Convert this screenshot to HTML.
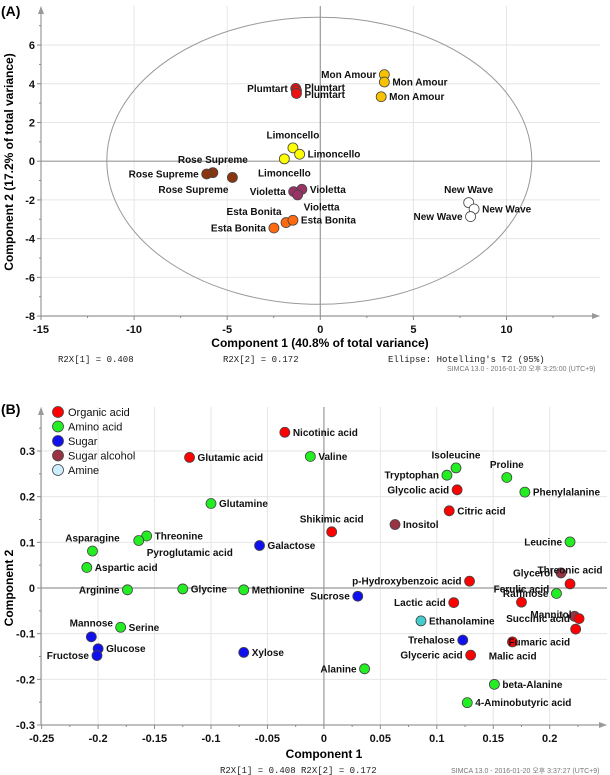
<!DOCTYPE html>
<html><head><meta charset="utf-8">
<style>
html,body{margin:0;padding:0;background:#fff;}
svg{display:block;font-family:"Liberation Sans",Arial,sans-serif;}
.tk{font-size:11px;font-weight:bold;fill:#111;}
.lb{font-size:10px;font-weight:bold;fill:#111;}
.mono{font-family:"Liberation Mono",monospace;font-size:9px;fill:#222;}
.foot{font-size:7px;fill:#777;}
</style></head>
<body>
<svg id="chart" width="610" height="775" viewBox="0 0 610 775">
<text x="1" y="16" font-size="14" font-weight="bold">(A)</text>
<text x="1" y="414" font-size="14" font-weight="bold">(B)</text>
<g id="gA"></g>
<g id="gB"></g>
<text x="320" y="347" text-anchor="middle" font-size="12" font-weight="bold">Component 1 (40.8% of total variance)</text>
<text transform="translate(13,162) rotate(-90)" text-anchor="middle" font-size="12" font-weight="bold">Component 2 (17.2% of total variance)</text>
<text class="mono" x="58" y="362">R2X[1] = 0.408</text>
<text class="mono" x="223" y="362">R2X[2] = 0.172</text>
<text class="mono" x="388" y="362">Ellipse: Hotelling's T2 (95%)</text>
<text class="foot" x="447" y="371">SIMCA 13.0 - 2016-01-20 오후 3:25:00 (UTC+9)</text>
<text x="324" y="758" text-anchor="middle" font-size="12" font-weight="bold">Component 1</text>
<text transform="translate(13,588) rotate(-90)" text-anchor="middle" font-size="12" font-weight="bold">Component 2</text>
<text class="mono" x="220" y="773">R2X[1] = 0.408 R2X[2] = 0.172</text>
<text class="foot" x="451" y="773">SIMCA 13.0 - 2016-01-20 오후 3:37:27 (UTC+9)</text>
</svg>
<script>
// ---- Panel A data ----
const aNames = ["Mon Amour","Mon Amour","Mon Amour","Plumtart","Plumtart","Plumtart","Limoncello","Limoncello","Limoncello","Rose Supreme","Rose Supreme","Rose Supreme","Violetta","Violetta","Violetta","Esta Bonita","Esta Bonita","Esta Bonita","New Wave","New Wave","New Wave"];
const aX = [3.44,3.44,3.27,-1.32,-1.28,-1.28,-1.47,-1.11,-1.93,-5.77,-6.1,-4.72,-1.43,-0.99,-1.22,-1.84,-2.49,-1.47,7.97,8.26,8.07];
const aY = [4.47,4.09,3.33,3.76,3.64,3.5,0.69,0.36,0.12,-0.59,-0.66,-0.84,-1.57,-1.45,-1.74,-3.17,-3.45,-3.05,-2.14,-2.47,-2.86];
const aXTicks = [-15,-10,-5,0,5,10];
const aYTicks = [-8,-6,-4,-2,0,2,4,6];
// ---- Panel B data ----
const bNames = ["Nicotinic acid","Glutamic acid","Valine","Isoleucine","Tryptophan","Proline","Glycolic acid","Phenylalanine","Glutamine","Citric acid","Shikimic acid","Inositol","Asparagine","Threonine","Pyroglutamic acid","Galactose","Leucine","Aspartic acid","Threonic acid","Glycerol","p-Hydroxybenzoic acid","Raffinose","Ferulic acid","Arginine","Glycine","Methionine","Sucrose","Lactic acid","Ethanolamine","Mannitol","Succinic acid","Malic acid","Trehalose","Fumaric acid","Glyceric acid","Mannose","Serine","Glucose","Fructose","Xylose","Alanine","beta-Alanine","4-Aminobutyric acid"];
const bX = [-0.0346,-0.119,-0.012,0.117,0.109,0.162,0.118,0.178,-0.100,0.111,0.0069,0.063,-0.205,-0.157,-0.164,-0.057,0.218,-0.210,0.218,0.210,0.129,0.206,0.175,-0.174,-0.125,-0.071,0.030,0.115,0.086,0.222,0.226,0.223,0.123,0.167,0.130,-0.206,-0.180,-0.200,-0.201,-0.071,0.036,0.151,0.127];
const bY = [0.341,0.286,0.288,0.263,0.247,0.242,0.215,0.210,0.185,0.169,0.123,0.139,0.081,0.114,0.104,0.093,0.101,0.045,0.009,0.033,0.015,-0.012,-0.031,-0.004,-0.002,-0.004,-0.018,-0.032,-0.072,-0.062,-0.067,-0.090,-0.114,-0.118,-0.147,-0.107,-0.086,-0.133,-0.148,-0.141,-0.177,-0.211,-0.251];
const bClass = ["Organic acid","Organic acid","Amino acid","Amino acid","Amino acid","Amino acid","Organic acid","Amino acid","Amino acid","Organic acid","Organic acid","Sugar alcohol","Amino acid","Amino acid","Amino acid","Sugar","Amino acid","Amino acid","Organic acid","Sugar alcohol","Organic acid","Amino acid","Organic acid","Amino acid","Amino acid","Amino acid","Sugar","Organic acid","Amine","Sugar alcohol","Organic acid","Organic acid","Sugar","Organic acid","Organic acid","Sugar","Amino acid","Sugar","Sugar","Sugar","Amino acid","Amino acid","Amino acid"];
const bClasses = ["Organic acid","Amino acid","Sugar","Sugar alcohol","Amine"];
const bXTicks = [-0.25,-0.2,-0.15,-0.1,-0.05,0,0.05,0.1,0.15,0.2];
const bYTicks = [-0.3,-0.2,-0.1,0,0.1,0.2,0.3];

// styles (not data)
const aColor = {"Mon Amour":"#f7c200","Plumtart":"#ee1111","Limoncello":"#ffff00","Rose Supreme":"#8a3410","Violetta":"#993366","Esta Bonita":"#ff6a10","New Wave":"#ffffff"};
const bColor = {"Organic acid":"#ff0000","Amino acid":"#22ee22","Sugar":"#1010ee","Sugar alcohol":"#993344","Amine":"#44cccc"};
const aLab = [[-8,0,"end"],[8,0,"start"],[8,0,"start"],[-8,0,"end"],[8,-3,"start"],[8,1,"start"],[0,-13,"middle"],[8,0,"start"],[0,14,"middle"],[0,-13,"middle"],[-8,0,"end"],[-39,12,"middle"],[-8,0,"end"],[8,0,"start"],[24,12,"middle"],[-32,-11,"middle"],[-8,0,"end"],[8,0,"start"],[0,-13,"middle"],[8,0,"start"],[-8,0,"end"]];
const bLab = {"Isoleucine":[0,-13,"middle"],"Proline":[0,-13,"middle"],"Shikimic acid":[0,-13,"middle"],"Asparagine":[0,-13,"middle"],"Mannose":[0,-14,"middle"],"Pyroglutamic acid":[8,12,"start"],"Fumaric acid":[-4,0,"start"],"Malic acid":[-63,27,"middle"],"Succinic acid":[-9,0,"end"],"Mannitol":[-3,-2,"end"],"Glycerol":[-8,0,"end"],"Threonic acid":[0,-14,"middle"],"Ferulic acid":[0,-13,"middle"],"Raffinose":[-8,0,"end"],"Leucine":[-8,0,"end"],"Tryptophan":[-8,0,"end"],"Glycolic acid":[-8,0,"end"],"Arginine":[-8,0,"end"],"Lactic acid":[-8,0,"end"],"Trehalose":[-8,0,"end"],"Glyceric acid":[-8,0,"end"],"Fructose":[-8,0,"end"],"Alanine":[-8,0,"end"],"p-Hydroxybenzoic acid":[-8,0,"end"],"Sucrose":[-8,0,"end"]};

const NS="http://www.w3.org/2000/svg";
function mk(parent,tag,attrs,txt){const e=document.createElementNS(NS,tag);for(const k in attrs)e.setAttribute(k,attrs[k]);if(txt!==undefined)e.textContent=txt;parent.appendChild(e);return e;}

function frame(g,o){
  // grid
  o.xt.forEach(v=>{if(v!==0){const l=mk(g,"line",{x1:o.sx(v),x2:o.sx(v),y1:o.top,y2:o.bottom,stroke:"#e6e6e6","stroke-width":1});
  
  }});
  o.yt.forEach(v=>{if(v!==0){const l=mk(g,"line",{x1:o.left,x2:o.right,y1:o.sy(v),y2:o.sy(v),stroke:"#e6e6e6","stroke-width":1});
  
  }});
  // zero lines
  const zx=mk(g,"line",{x1:o.sx(0),x2:o.sx(0),y1:o.top,y2:o.bottom,stroke:"#999","stroke-width":1.2});
  
  
  const zy=mk(g,"line",{x1:o.left,x2:o.right,y1:o.sy(0),y2:o.sy(0),stroke:"#999","stroke-width":1.2});
  
  
  // axes
  const ax=mk(g,"line",{x1:o.left,x2:o.right-6,y1:o.bottom,y2:o.bottom,stroke:"#999","stroke-width":1.2});
  
  
  const aa=mk(g,"path",{d:`M${o.right-8},${o.bottom-3}L${o.right},${o.bottom}L${o.right-8},${o.bottom+3}Z`,fill:"#999"});
  
  
  const ay=mk(g,"line",{x1:o.left,x2:o.left,y1:o.top+6,y2:o.bottom,stroke:"#999","stroke-width":1.2});
  
  
  const ya=mk(g,"path",{d:`M${o.left-3},${o.top+8}L${o.left},${o.top}L${o.left+3},${o.top+8}Z`,fill:"#999"});
  
  
  // ticks
  const dx=o.xt[1]-o.xt[0], dy=o.yt[1]-o.yt[0];
  for(let v=o.xt[0];o.sx(v)<o.right-8;v+=dx/2){const t=mk(g,"line",{x1:o.sx(v),x2:o.sx(v),y1:o.bottom,y2:o.bottom+(Math.abs(Math.round(v/dx)*dx-v)<1e-9?4:2),stroke:"#888"});
  
  }
  for(let v=o.yt[0];v<=o.yt[o.yt.length-1]+dy*0.6;v+=dy/2){const t=mk(g,"line",{x1:o.left-(Math.abs(Math.round(v/dy)*dy-v)<1e-9?4:2),x2:o.left,y1:o.sy(v),y2:o.sy(v),stroke:"#888"});
  
  }
  o.xt.forEach(v=>{const t=mk(g,"text",{class:"tk",x:o.sx(v),y:o.bottom+17,"text-anchor":"middle"},String(v));
  
  });
  o.yt.forEach(v=>{const t=mk(g,"text",{class:"tk",x:o.left-6,y:o.sy(v)+4,"text-anchor":"end"},String(v));
  
  });
}

// Panel A
const gA=document.getElementById("gA");
const A={left:41,right:600,top:6,bottom:316,sx:v=>320.3+v*18.62,sy:v=>161.2-v*19.36,xt:aXTicks,yt:aYTicks};
frame(gA,A);
const ell=mk(gA,"ellipse",{cx:319.3,cy:160.8,rx:212.5,ry:143.5,fill:"none",stroke:"#999","stroke-width":1});


aNames.forEach((n,i)=>{
  const c=mk(gA,"circle",{cx:A.sx(aX[i]),cy:A.sy(aY[i]),r:5,fill:aColor[n],stroke:"#444","stroke-width":0.8});
  
  
});
aNames.forEach((n,i)=>{
  const L=aLab[i];
  const t=mk(gA,"text",{class:"lb",x:A.sx(aX[i])+L[0],y:A.sy(aY[i])+L[1]+3.5,"text-anchor":L[2]},n);
  
  
});

// Panel B
const gB=document.getElementById("gB");
const B={left:41,right:607,top:407,bottom:725,sx:v=>323.9+v*1129,sy:v=>588-v*456.7,xt:bXTicks,yt:bYTicks};
frame(gB,B);
bNames.forEach((n,i)=>{
  const c=mk(gB,"circle",{cx:B.sx(bX[i]),cy:B.sy(bY[i]),r:5,fill:bColor[bClass[i]],stroke:"#444","stroke-width":0.8});
  
  
});
bNames.forEach((n,i)=>{
  const L=bLab[n]||[8,0,"start"];
  const t=mk(gB,"text",{class:"lb",x:B.sx(bX[i])+L[0],y:B.sy(bY[i])+L[1]+3.5,"text-anchor":L[2]},n);
  
  
});
// legend
bClasses.forEach((n,i)=>{
  const y=412+i*14.5;
  const c=mk(gB,"circle",{cx:58,cy:y,r:5.5,fill:n==="Amine"?"#cceeff":bColor[n],stroke:"#444","stroke-width":0.8});
  
  
  const t=mk(gB,"text",{x:68,y:y+4,"font-size":11,fill:"#111"},n);
  
  
});
</script>
</body></html>
